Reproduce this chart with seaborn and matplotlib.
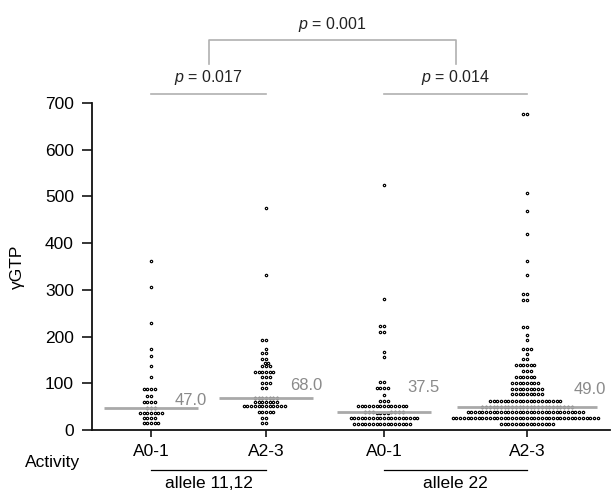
import numpy as np
import pandas as pd
import matplotlib
matplotlib.use("Agg")
import matplotlib.pyplot as plt
import seaborn as sns

# ---- data ----
group_labels = ["A0-1", "A2-3", "A0-1", "A2-3"]
allele_labels = ["allele 11,12", "allele 22"]
p_pair_labels = ["0.017", "0.014"]
p_overall_label = "0.001"

g1_levels = [15, 25, 36, 47, 60, 73, 87, 113, 137, 158, 173, 230, 306, 361]
g1_counts = [5, 4, 7, 3, 4, 2, 4, 1, 1, 1, 1, 1, 1, 1]

g2_levels = [16, 26, 39, 52, 60, 68, 89, 101, 114, 124, 137, 144, 153, 164, 173, 192, 332, 475]
g2_counts = [2, 2, 5, 12, 7, 7, 2, 3, 3, 6, 3, 2, 2, 2, 1, 2, 1, 1]

g3_levels = [13, 25, 37, 38, 51, 62, 75, 89, 102, 157, 166, 209, 223, 280, 525]
g3_counts = [16, 19, 4, 7, 14, 3, 1, 4, 2, 1, 1, 2, 2, 1, 1]

g4_levels = [13, 25, 38, 49, 63, 76, 88, 101, 113, 126, 139, 152, 162, 174, 192, 203,
             221, 278, 292, 332, 361, 419, 469, 507, 676]
g4_counts = [15, 40, 32, 25, 20, 9, 9, 8, 6, 3, 6, 2, 1, 3, 1, 1,
             2, 2, 2, 1, 1, 1, 1, 1, 2]

# ---- layout ----
xpos = [0.295, 0.87, 1.46, 2.175]
median_halfwidth = [0.235, 0.235, 0.235, 0.35]
label_y = [64, 96, 90, 87]

plt.rcParams["font.family"] = ["Liberation Sans", "DejaVu Sans"]
plt.rcParams["mathtext.fontset"] = "custom"
plt.rcParams["mathtext.it"] = "Liberation Sans:italic"
plt.rcParams["mathtext.rm"] = "Liberation Sans"

fig = plt.figure(figsize=(6.12, 4.93), dpi=100)
ax = fig.add_axes([92 / 612, 1 - 430 / 493, (610 - 92) / 612, (430 - 103) / 493])

levels = [g1_levels, g2_levels, g3_levels, g4_levels]
counts = [g1_counts, g2_counts, g3_counts, g4_counts]

median_grey = "#a9a9a9"
label_grey = "#8a8a8a"

for i in range(4):
    vals = np.repeat(levels[i], counts[i])
    df = pd.DataFrame({"pos": np.full(len(vals), xpos[i]), "val": vals})
    sns.swarmplot(data=df, x="pos", y="val", native_scale=True, orient="x",
                  size=1.7, color="white", edgecolor="black", linewidth=0.85,
                  ax=ax, warn_thresh=1.0, zorder=2)
    med = np.median(vals)
    hw = median_halfwidth[i]
    ax.plot([xpos[i] - hw, xpos[i] + hw], [med, med], color=median_grey,
            lw=2.0, zorder=3, solid_capstyle="butt")
    ax.text(xpos[i] + hw + 0.045, label_y[i], f"{med:.1f}", ha="right", va="center",
            color=label_grey, fontsize=12)

ax.set_xlim(0, 2.59)
ax.set_ylim(0, 700)
ax.set_yticks(range(0, 701, 100))
ax.set_xticks(xpos)
ax.set_xticklabels(group_labels)
ax.set_xlabel("")
ax.set_ylabel("γGTP", fontsize=12.5)
ax.yaxis.set_label_coords(-0.13, 0.5)

for s in ["top", "right"]:
    ax.spines[s].set_visible(False)
for s in ["left", "bottom"]:
    ax.spines[s].set_linewidth(1.3)
    ax.spines[s].set_color("#111111")
ax.tick_params(axis="y", direction="out", length=7, width=1.1, pad=6, labelsize=12.5)
ax.tick_params(axis="x", direction="out", length=5, width=1.1, pad=5, labelsize=12.5)

# significance brackets
bracket_grey = "#b0b0b0"
mid01 = (xpos[0] + xpos[1]) / 2
mid23 = (xpos[2] + xpos[3]) / 2
ax.plot([xpos[0], xpos[1]], [720, 720], color=bracket_grey, lw=1.2, clip_on=False)
ax.plot([xpos[2], xpos[3]], [720, 720], color=bracket_grey, lw=1.2, clip_on=False)
ax.text(mid01, 754, r"$\it{p}$ = " + p_pair_labels[0], ha="center", va="center",
        fontsize=11.5, color="#222222")
ax.text(mid23, 754, r"$\it{p}$ = " + p_pair_labels[1], ha="center", va="center",
        fontsize=11.5, color="#222222")
ax.plot([mid01, mid01, mid23, mid23], [784, 834, 834, 784], color=bracket_grey,
        lw=1.2, clip_on=False)
ax.text((mid01 + mid23) / 2, 869, r"$\it{p}$ = " + p_overall_label, ha="center",
        va="center", fontsize=11.5, color="#222222")

# allele grouping under the axis
ax.plot([xpos[0], xpos[1]], [-85, -85], color="black", lw=0.9, clip_on=False)
ax.plot([xpos[2], xpos[3]], [-85, -85], color="black", lw=0.9, clip_on=False)
ax.text(mid01, -115, allele_labels[0], ha="center", va="center", fontsize=12.5)
ax.text(mid23, -115, allele_labels[1], ha="center", va="center", fontsize=12.5)
fig.text(80 / 612, 1 - 462 / 493, "Activity", ha="right", va="center", fontsize=12.5)

fig.savefig("out.png", dpi=100)
